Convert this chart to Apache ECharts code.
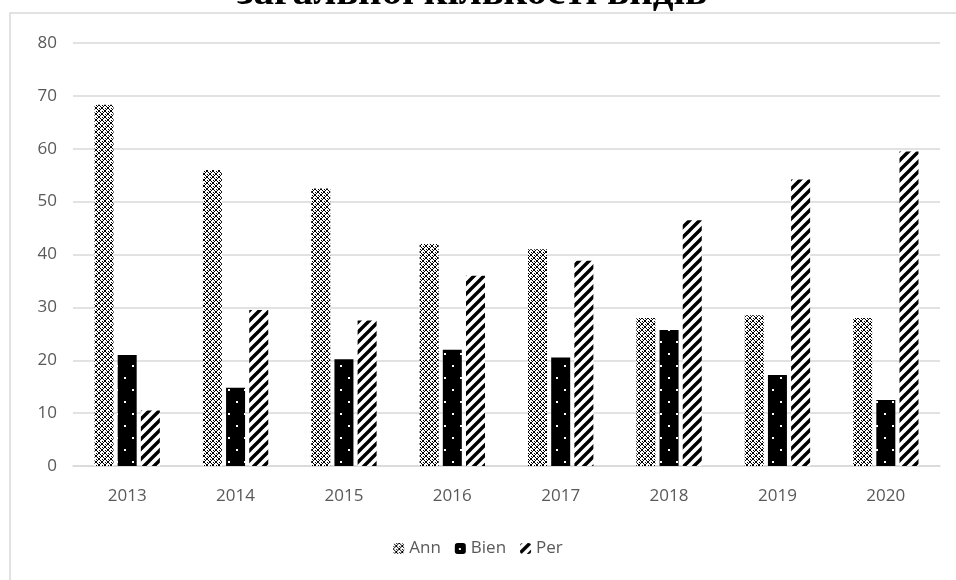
<!DOCTYPE html>
<html><head><meta charset="utf-8">
<script src="https://cdn.jsdelivr.net/npm/echarts@6/dist/echarts.min.js"></script>
<style>html,body{margin:0;padding:0;background:#fff}#c{width:956px;height:580px}</style>
</head><body><div id="c"></div>
<script>
const categories = ['2013','2014','2015','2016','2017','2018','2019','2020'];
const annValues  = [68.3, 56.0, 52.5, 42.0, 41.0, 28.0, 28.5, 28.0];
const bienValues = [21.0, 14.8, 20.2, 22.0, 20.5, 25.7, 17.2, 12.5];
const perValues  = [10.5, 29.5, 27.5, 36.0, 38.8, 46.5, 54.2, 59.5];
const yTicks = [0,10,20,30,40,50,60,70,80];
const titleText = 'загальної кількості видів';

function tile(w,h,draw){const c=document.createElement('canvas');c.width=w;c.height=h;const g=c.getContext('2d');g.fillStyle='#fff';g.fillRect(0,0,w,h);draw(g);return c;}
const annTile = tile(6,6,g=>{g.fillStyle='#000';for(let i=0;i<6;i++){g.fillRect(i,i,1,1);g.fillRect(5-i,i,1,1);}g.fillRect(0,3,1,1);g.fillRect(3,0,1,1);});
const bienTile = tile(16,24,g=>{g.fillStyle='#000';g.fillRect(0,0,16,24);g.fillStyle='#fff';g.fillRect(4,5,2,2);g.fillRect(12,17,2,2);});
const perTile = tile(10,10,g=>{g.strokeStyle='#000';g.lineWidth=3.4;g.beginPath();
  for(let k=-2;k<=2;k++){g.moveTo(k*10-2,12);g.lineTo(k*10+12,-2);}g.stroke();});
const pat = c => ({image:c, repeat:'repeat'});

const chart = echarts.init(document.getElementById('c'));
chart.setOption({
  animation:false,
  graphic:[
    {type:'rect',shape:{x:10,y:13,width:980,height:620},style:{fill:'none',stroke:'#d9d9d9',lineWidth:1.5},z:-1},
    {type:'text',style:{text:titleText,x:472,y:14,textAlign:'center',textVerticalAlign:'bottom',font:'bold 41px "Liberation Serif"',fill:'#000'}}
  ],
  legend:{
    data:['Ann','Bien','Per'],bottom:18,left:'center',itemWidth:11,itemHeight:11,itemGap:14,
    textStyle:{color:'#595959',fontSize:17,fontFamily:'Open Sans'}
  },
  grid:{left:73,right:16,top:43,bottom:114,containLabel:false},
  xAxis:{type:'category',data:categories,axisLine:{lineStyle:{color:'#d9d9d9',width:1.5}},axisTick:{show:false},
    axisLabel:{color:'#595959',fontSize:17,fontFamily:'Open Sans',margin:22}},
  yAxis:{type:'value',min:0,max:80,interval:10,axisLine:{show:false},axisTick:{show:false},
    splitLine:{lineStyle:{color:'#d9d9d9',width:1.5}},
    axisLabel:{color:'#595959',fontSize:17,fontFamily:'Open Sans',margin:16,
      formatter:v=>yTicks.includes(v)?String(v):''}},
  series:[
    {name:'Ann',type:'bar',data:annValues,barWidth:19,barGap:'22%',itemStyle:{color:pat(annTile)}},
    {name:'Bien',type:'bar',data:bienValues,barWidth:19,itemStyle:{color:pat(bienTile)}},
    {name:'Per',type:'bar',data:perValues,barWidth:19,itemStyle:{color:pat(perTile)}}
  ]
});
</script></body></html>
